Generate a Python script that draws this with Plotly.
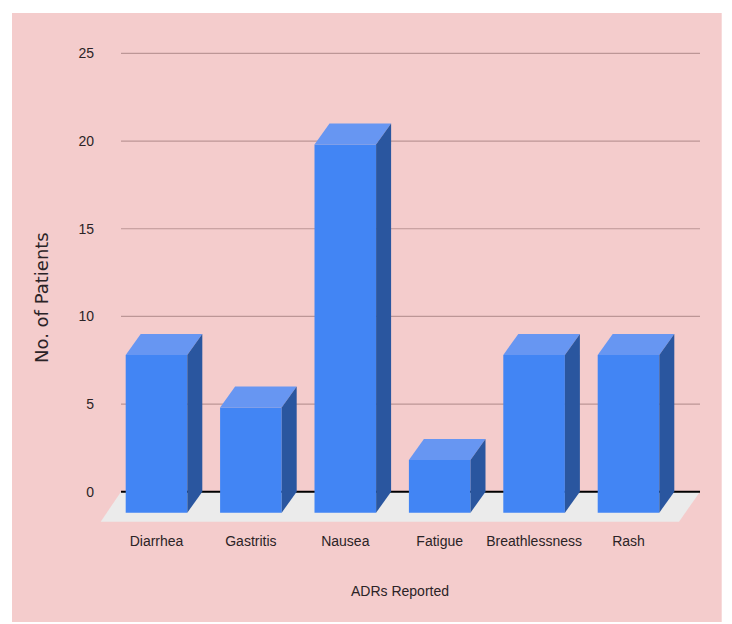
import plotly.graph_objects as go

categories = ["Diarrhea", "Gastritis", "Nausea", "Fatigue", "Breathlessness", "Rash"]
patients = [9, 6, 21, 3, 9, 9]
y_ticks = [0, 5, 10, 15, 20, 25]

W, H = 732, 624
L, R, T, B = 95, 705, 50, 526
X0, SLOT = 156.5, 94.4
Y0, UNIT = 491.7, 17.53
BAR = 61.6 / SLOT
DX = 15.0 / SLOT
DY = 21.0 / UNIT
PINK, FRONT, TOP, SIDE = "#F4CCCC", "#4285F4", "#6796F2", "#2A569F"
TEXT = "#2b2326"
FONT = "Liberation Sans, Arial, sans-serif"
xs = list(range(len(categories)))

fig = go.Figure()
fig.add_trace(go.Bar(x=xs, y=patients, base=[-DY] * len(xs), width=BAR,
                     marker=dict(color=FRONT, line=dict(width=0)), showlegend=False))
for i, v in zip(xs, patients):
    l, r = i - BAR / 2, i + BAR / 2
    fig.add_trace(go.Scatter(x=[l, r, r + DX, l + DX, l], y=[v - DY, v - DY, v, v, v - DY],
                             mode="lines", fill="toself", fillcolor=TOP, line=dict(width=0),
                             showlegend=False, hoverinfo="skip"))
    fig.add_trace(go.Scatter(x=[r, r + DX, r + DX, r, r], y=[-DY, 0, v, v - DY, -DY],
                             mode="lines", fill="toself", fillcolor=SIDE, line=dict(width=0),
                             showlegend=False, hoverinfo="skip"))

px_x = lambda p: (p - X0) / SLOT
px_y = lambda p: (Y0 - p) / UNIT
shapes = [dict(type="rect", xref="paper", yref="paper", layer="below",
               x0=(12 - L) / (R - L), x1=(721.7 - L) / (R - L),
               y0=(B - 622) / (B - T), y1=(B - 13) / (B - T),
               fillcolor=PINK, line=dict(width=0))]
shapes.append(dict(type="path", xref="x", yref="y", layer="below",
                   path=f"M {px_x(121)} 0 L {px_x(700)} 0 L {px_x(679)} {px_y(521.7)} L {px_x(100.7)} {px_y(521.7)} Z",
                   fillcolor="#EBEBEB", line=dict(width=0)))
for t in y_ticks:
    shapes.append(dict(type="line", xref="x", yref="y", layer="below",
                       x0=px_x(121), x1=px_x(700), y0=t, y1=t,
                       line=dict(color="#000000" if t == 0 else "#BC9696", width=2 if t == 0 else 1.2)))

fig.update_layout(
    width=W, height=H, margin=dict(l=L, r=W - R, t=T, b=H - B, pad=0),
    paper_bgcolor="#FFFFFF", plot_bgcolor="rgba(0,0,0,0)", shapes=shapes, showlegend=False,
    font=dict(family=FONT, size=14, color=TEXT),
    xaxis=dict(range=[px_x(L), px_x(R)], tickvals=xs, ticktext=categories, showgrid=False, zeroline=False,
               ticks="outside", ticklen=2, tickcolor="rgba(0,0,0,0)", showline=False, fixedrange=True,
               title=dict(text="ADRs Reported", standoff=38, font=dict(family=FONT, size=14, color=TEXT))),
    yaxis=dict(range=[px_y(B), px_y(T)], tickvals=y_ticks, showgrid=False, zeroline=False, showline=False,
               fixedrange=True),
    annotations=[dict(text="No. of Patients", textangle=-90, showarrow=False,
                      xref="paper", yref="paper", xanchor="center", yanchor="middle",
                      x=(41 - L) / (R - L), y=(B - 298) / (B - T),
                      font=dict(family="DejaVu Sans, sans-serif", size=18, color=TEXT))],
)
fig.write_html("out.html", config={"displayModeBar": False}, post_script="document.body.style.margin='0';")
